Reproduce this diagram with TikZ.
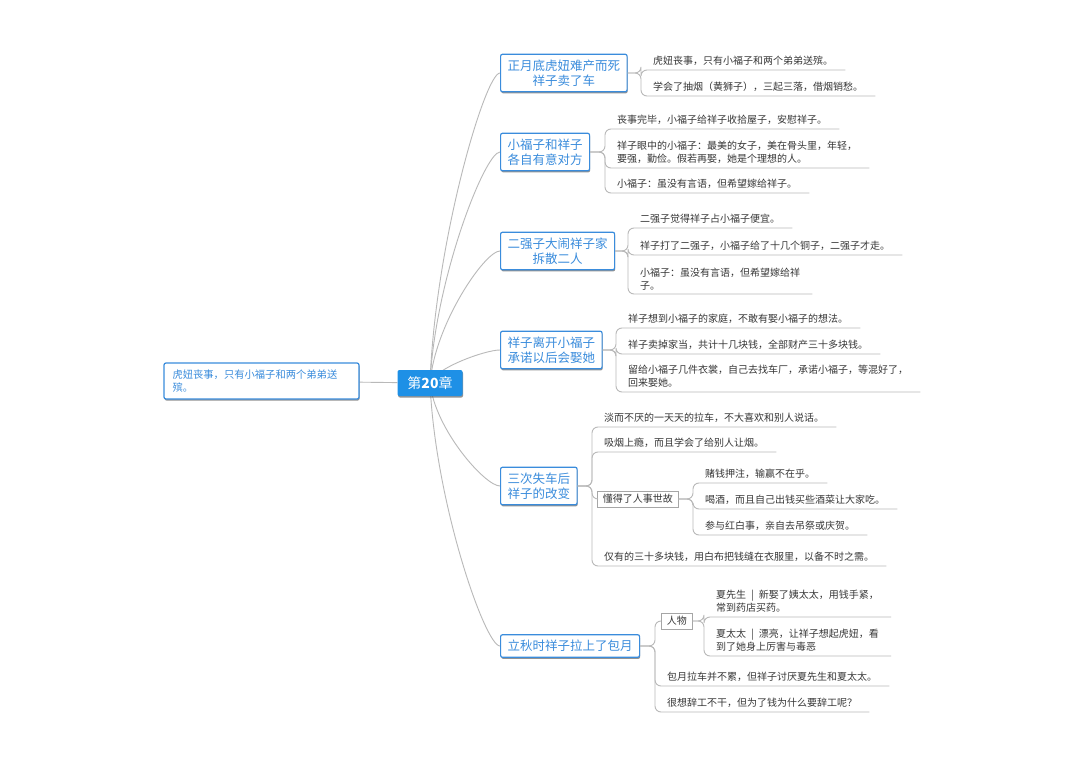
\documentclass[tikz,border=0pt]{standalone}
\usepackage{fontspec}
\setmainfont{Noto Sans CJK SC}
\usepackage{tikz}
\usetikzlibrary{shadows,backgrounds,calc}
\definecolor{mapblue}{RGB}{58,140,220}
\definecolor{rootblue}{RGB}{30,144,230}
\definecolor{linkgray}{RGB}{185,185,185}
\definecolor{leaftext}{RGB}{55,55,55}

\begin{document}
\begin{tikzpicture}[x=1pt, y=-1pt,
  topic/.style={draw=mapblue, line width=1.2pt, fill=white, rounded corners=2pt, text=mapblue, align=center, anchor=west, font=\fontsize{12.5}{15}\selectfont, inner xsep=7pt, inner ysep=5.5pt, drop shadow={shadow xshift=0.6pt, shadow yshift=-1.6pt, opacity=0.6, fill=black!70}},
  leaf/.style={anchor=south west, align=left, text=leaftext, font=\fontsize{10}{13}\selectfont, inner xsep=12pt, inner ysep=4pt},
  group/.style={draw=black!35, line width=0.5pt, fill=white, anchor=west, text=leaftext, font=\fontsize{10}{12}\selectfont, inner xsep=5.5pt, inner ysep=3.5pt},
  link/.style={draw=linkgray, line width=0.9pt, rounded corners=6pt}]
  \useasboundingbox (0,0) rectangle (1080,760);

  \node[fill=rootblue, text=white, rounded corners=2pt, font=\fontsize{14}{16}\selectfont, minimum width=65pt, minimum height=26pt, drop shadow={shadow xshift=0.6pt, shadow yshift=-1.6pt, opacity=0.6, fill=black!70}] (root) at (430,383) {第\textbf{20}章};
  \node[draw=mapblue, line width=1.2pt, fill=white, rounded corners=2pt, text=mapblue, align=left, text width=178pt, inner xsep=8.5pt, minimum height=36pt, font=\fontsize{10.3}{13}\selectfont, drop shadow={shadow xshift=0.6pt, shadow yshift=-1.6pt, opacity=0.6, fill=black!70}] (side) at (261.5,381) {虎妞丧事，只有小福子和两个弟弟送\\殡。};

  \node[topic] (death) at (500,73) {正月底虎妞难产而死\\祥子卖了车};
  \node[topic] (mutual) at (500,152) {小福子和祥子\\各自有意对方};
  \node[topic] (quarrel) at (500,251) {二强子大闹祥子家\\拆散二人};
  \node[topic] (leave) at (500,350) {祥子离开小福子\\承诺以后会娶她};
  \node[topic] (change) at (500,486) {三次失车后\\祥子的改变};
  \node[topic] (monthly) at (500,646) {立秋时祥子拉上了包月};

  \node[leaf] (death1) at (641,70) {虎妞丧事，只有小福子和两个弟弟送殡。};
  \node[leaf] (death2) at (641,96) {学会了抽烟（黄狮子），三起三落，借烟销愁。};

  \node[leaf] (mutual1) at (605,129) {丧事完毕，小福子给祥子收拾屋子，安慰祥子。};
  \node[leaf] (mutual2) at (605,168) {祥子眼中的小福子：最美的女子，美在骨头里，年轻，\\要强，勤俭。假若再娶，她是个理想的人。};
  \node[leaf] (mutual3) at (605,193) {小福子：虽没有言语，但希望嫁给祥子。};

  \node[leaf] (quarrel1) at (628,228) {二强子觉得祥子占小福子便宜。};
  \node[leaf] (quarrel2) at (628,255) {祥子打了二强子，小福子给了十几个铜子，二强子才走。};
  \node[leaf] (quarrel3) at (628,294) {小福子：虽没有言语，但希望嫁给祥\\子。};

  \node[leaf] (leave1) at (616,328) {祥子想到小福子的家庭，不敢有娶小福子的想法。};
  \node[leaf] (leave2) at (616,354) {祥子卖掉家当，共计十几块钱，全部财产三十多块钱。};
  \node[leaf] (leave3) at (616,392) {留给小福子几件衣裳，自己去找车厂，承诺小福子，等混好了，\\回来娶她。};

  \node[leaf] (change1) at (592,427) {淡而不厌的一天天的拉车，不大喜欢和别人说话。};
  \node[leaf] (change2) at (592,452) {吸烟上瘾，而且学会了给别人让烟。};
  \node[group] (worldly) at (597,499) {懂得了人事世故};
  \node[leaf] (change3) at (592,566) {仅有的三十多块钱，用白布把钱缝在衣服里，以备不时之需。};
  \node[leaf] (worldly1) at (693,483) {赌钱押注，输赢不在乎。};
  \node[leaf] (worldly2) at (693,509) {喝酒，而且自己出钱买些酒菜让大家吃。};
  \node[leaf] (worldly3) at (693,535) {参与红白事，亲自去吊祭或庆贺。};

  \node[group] (people) at (661,621) {人物};
  \node[leaf] (monthly1) at (655,686) {包月拉车并不累，但祥子讨厌夏先生和夏太太。};
  \node[leaf] (monthly2) at (655,712) {很想辞工不干，但为了钱为什么要辞工呢？};
  \node[leaf] (people1) at (704,617) {夏先生{\enspace}|{\enspace}新娶了姨太太，用钱手紧，\\常到药店买药。};
  \node[leaf] (people2) at (704,656) {夏太太{\enspace}|{\enspace}漂亮，让祥子想起虎妞，看\\到了她身上厉害与毒恶};

  \begin{scope}[on background layer]
    \fill[white] (0,0) rectangle (1080,760);
    \draw[link] (side) -- (root);
    \foreach \b in {death,mutual,quarrel,leave,change,monthly}
      \draw[link] (root.center) .. controls ($(root.center)!0.45!(root.center |- \b.west) + (5,0)$) and +(-15,0) .. (\b.west);
  \end{scope}

  \foreach \p/\l in {death/death1, death/death2, mutual/mutual1, mutual/mutual2, mutual/mutual3, quarrel/quarrel1, quarrel/quarrel2, quarrel/quarrel3, leave/leave1, leave/leave2, leave/leave3, change/change1, change/change2, change/change3, worldly/worldly1, worldly/worldly2, worldly/worldly3, monthly/monthly1, monthly/monthly2, people/people1, people/people2}
    \draw[link] (\p.east) -- (\p.east -| \l.west) |- (\l.south east);
  \draw[link] (change.east) -- (change.east -| change1.west) |- (worldly.west);
  \draw[link] (monthly.east) -- (monthly.east -| monthly1.west) |- (people.west);
\end{tikzpicture}
\end{document}
